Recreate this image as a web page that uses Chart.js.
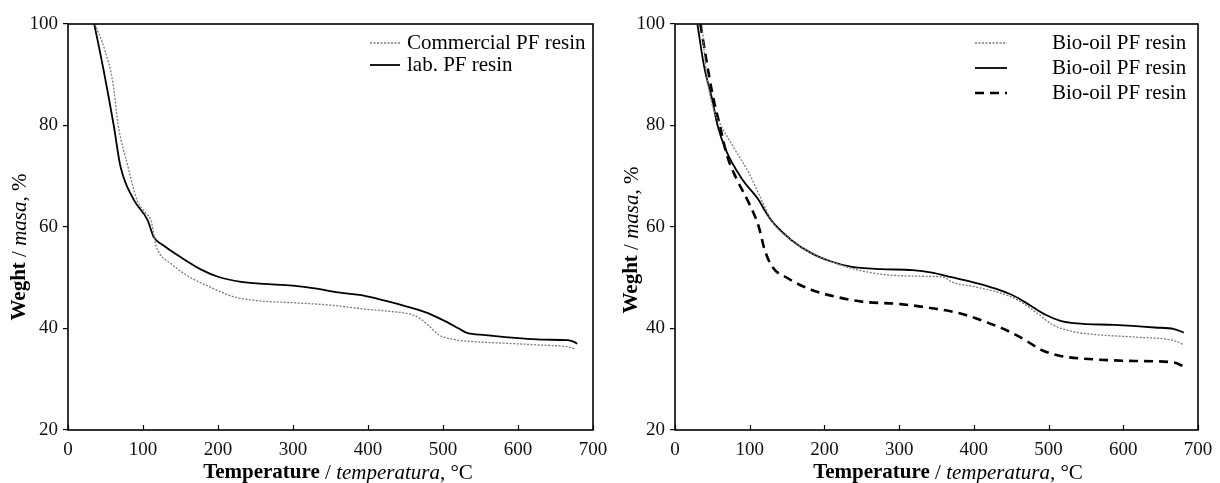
<!DOCTYPE html>
<html>
<head>
<meta charset="utf-8">
<script src="https://cdn.jsdelivr.net/npm/chart.js@4.4.0/dist/chart.umd.min.js"></script>
<style>
  html, body { margin: 0; padding: 0; background: #fff; }
  #wrap { position: relative; width: 1220px; height: 483px; }
  canvas { position: absolute; top: 0; }
</style>
</head>
<body>
<div id="wrap">
  <canvas id="left" width="610" height="483" style="left:0"></canvas>
  <canvas id="right" width="610" height="483" style="left:610px"></canvas>
</div>
<script>
// tick labels
const xTicks = [0, 100, 200, 300, 400, 500, 600, 700];
const yTicks = [20, 40, 60, 80, 100];

// left panel: commercial vs lab PF resin
const tempCommercial = [36, 49, 60, 67, 80, 92, 104, 111, 117, 122, 137, 158, 189, 220, 251, 298, 350, 397, 428, 459, 469, 480, 495, 516, 542, 583, 635, 666, 676];
const weightCommercial = [100, 94.9, 88.3, 80, 71.9, 65.3, 62.7, 61.1, 56.5, 54.8, 52.8, 50.5, 48.2, 46.3, 45.5, 45.1, 44.6, 43.8, 43.4, 42.7, 42.0, 40.7, 38.7, 37.8, 37.4, 37.1, 36.7, 36.4, 36.0];
const tempLab = [35, 48, 61, 70, 88, 106, 109, 114, 127, 153, 179, 200, 231, 272, 303, 329, 360, 397, 428, 464, 485, 506, 521, 531, 557, 583, 609, 635, 666, 674, 679];
const weightLab = [100, 90.5, 80, 71.9, 65.3, 61.4, 60.2, 58.1, 56.4, 53.8, 51.5, 50.2, 49.2, 48.7, 48.4, 47.9, 47.1, 46.4, 45.3, 43.8, 42.7, 41.2, 40.0, 39.2, 38.7, 38.3, 38.0, 37.8, 37.7, 37.4, 37.0];

// right panel: three bio-oil PF resins
const tempBioDotted = [36, 42, 52, 60, 78, 99, 115, 130, 156, 183, 209, 235, 276, 329, 360, 370, 402, 433, 459, 485, 506, 532, 563, 616, 668, 681];
const weightBioDotted = [100, 90.3, 83, 80.4, 75.8, 70.6, 65.6, 61.1, 57.4, 54.8, 53.2, 51.9, 50.7, 50.3, 50.1, 49.2, 48.2, 47.1, 45.6, 43.0, 40.7, 39.4, 38.8, 38.3, 37.6, 36.8];
const tempBioSolid = [30, 39, 50, 57, 68, 89, 112, 120, 130, 156, 183, 209, 235, 276, 318, 344, 370, 402, 428, 454, 475, 496, 516, 537, 589, 642, 668, 681];
const weightBioSolid = [100, 91.6, 85, 80, 75.2, 69.6, 65.3, 63.3, 61.1, 57.4, 54.8, 53.2, 52.2, 51.7, 51.5, 51.0, 50.1, 49.0, 47.9, 46.4, 44.6, 42.7, 41.5, 41.0, 40.7, 40.2, 39.9, 39.2];
const tempBioDashed = [34, 42, 50, 60, 70, 83, 99, 112, 120, 130, 151, 183, 214, 250, 302, 344, 381, 412, 443, 469, 490, 516, 563, 616, 668, 681];
const weightBioDashed = [100, 92.9, 86.3, 80, 73.9, 69.3, 64.7, 60.1, 55.5, 52.2, 49.9, 47.6, 46.3, 45.3, 44.8, 44.0, 43.0, 41.5, 39.7, 37.7, 35.8, 34.6, 33.9, 33.6, 33.3, 32.5];

const legendLeft = ["Commercial PF resin", "lab. PF resin"];
const legendRight = ["Bio-oil PF resin", "Bio-oil PF resin", "Bio-oil PF resin"];

const SERIF = "'Liberation Serif', 'Times New Roman', serif";

const styles = {
  dotted: { borderColor: "#7a7a7a", borderWidth: 1.3, borderDash: [2, 1.5] },
  solid: { borderColor: "#000", borderWidth: 1.8, borderDash: [] },
  dashed: { borderColor: "#000", borderWidth: 2.6, borderDash: [9, 6] },
};

function toPoints(xs, ys) {
  return xs.map((x, i) => ({ x: x, y: ys[i] }));
}

function series(label, xs, ys, style) {
  return Object.assign({
    label: label,
    data: toPoints(xs, ys),
    pointRadius: 0,
    fill: false,
    cubicInterpolationMode: "monotone",
  }, styles[style]);
}

// draws text made of several font pieces, centred on (cx, cy)
function drawMixed(ctx, parts, cx, cy) {
  let total = 0;
  parts.forEach((p) => { ctx.font = p.font; total += ctx.measureText(p.text).width; });
  let x = cx - total / 2;
  ctx.textAlign = "left";
  ctx.textBaseline = "middle";
  parts.forEach((p) => {
    ctx.font = p.font;
    ctx.fillText(p.text, x, cy);
    x += ctx.measureText(p.text).width;
  });
}

const framePlugin = {
  id: "frame",
  afterDraw(chart, args, opts) {
    const ctx = chart.ctx;
    const a = chart.chartArea;
    const xs = chart.scales.x;
    ctx.save();
    ctx.strokeStyle = "#000";
    ctx.lineWidth = 1.6;
    ctx.strokeRect(a.left, a.top, a.right - a.left, a.bottom - a.top);
    // inward ticks on the x axis
    ctx.lineWidth = 1.2;
    xTicks.forEach((v) => {
      const px = Math.round(xs.getPixelForValue(v)) + 0.5;
      ctx.beginPath();
      ctx.moveTo(px, a.bottom);
      ctx.lineTo(px, a.bottom - 5);
      ctx.stroke();
    });
    ctx.fillStyle = "#000";
    // x title
    drawMixed(ctx, [
      { text: "Temperature", font: "bold 21px " + SERIF },
      { text: " / ", font: "21px " + SERIF },
      { text: "temperatura", font: "italic 21px " + SERIF },
      { text: ", °C", font: "21px " + SERIF },
    ], opts.xTitleX, 473);
    // y title
    ctx.save();
    ctx.translate(opts.yTitleX, opts.yTitleY);
    ctx.rotate(-Math.PI / 2);
    drawMixed(ctx, [
      { text: "Weght", font: "bold 21px " + SERIF },
      { text: " / ", font: "21px " + SERIF },
      { text: "masa", font: "italic 21px " + SERIF },
      { text: ", %", font: "21px " + SERIF },
    ], 0, 0);
    ctx.restore();
    // legend
    const lg = opts.legend;
    ctx.font = "21px " + SERIF;
    ctx.textBaseline = "middle";
    ctx.textAlign = "left";
    chart.data.datasets.forEach((ds, i) => {
      const y = lg.rows[i];
      ctx.save();
      ctx.strokeStyle = ds.borderColor;
      ctx.lineWidth = ds.borderWidth;
      ctx.setLineDash(ds.borderDash || []);
      ctx.beginPath();
      ctx.moveTo(lg.x1, y);
      ctx.lineTo(lg.x2, y);
      ctx.stroke();
      ctx.restore();
      ctx.fillText(lg.labels[i], lg.textX, y);
    });
    ctx.restore();
  },
};

function makeOptions(yWidth, padRight, pluginOpts) {
  return {
    responsive: false,
    animation: false,
    devicePixelRatio: 1,
    layout: { padding: { top: 24, right: padRight, left: 0, bottom: 0 } },
    plugins: { legend: { display: false }, tooltip: { enabled: false }, frame: pluginOpts },
    scales: {
      x: {
        type: "linear",
        min: 0,
        max: 700,
        afterBuildTicks: (s) => { s.ticks = xTicks.map((v) => ({ value: v })); },
        afterFit: (s) => { s.height = 53; s.paddingLeft = 0; s.paddingRight = 0; },
        grid: { display: false, drawTicks: false },
        border: { display: false },
        ticks: { color: "#111", padding: 9, font: { family: SERIF, size: 19 } },
      },
      y: {
        type: "linear",
        min: 20,
        max: 100,
        afterBuildTicks: (s) => { s.ticks = yTicks.map((v) => ({ value: v })); },
        afterFit: (s) => { s.width = yWidth; s.paddingTop = 0; s.paddingBottom = 0; },
        grid: { drawOnChartArea: false, drawTicks: true, tickLength: 5, color: "#000", lineWidth: 1.2 },
        border: { display: false },
        ticks: { color: "#111", padding: 5, font: { family: SERIF, size: 19 } },
      },
    },
  };
}

new Chart(document.getElementById("left"), {
  type: "line",
  data: {
    datasets: [
      series(legendLeft[0], tempCommercial, weightCommercial, "dotted"),
      series(legendLeft[1], tempLab, weightLab, "solid"),
    ],
  },
  options: makeOptions(68, 17, {
    xTitleX: 338, yTitleX: 20, yTitleY: 247,
    legend: { x1: 370, x2: 400, textX: 407, rows: [43, 65], labels: legendLeft },
  }),
  plugins: [framePlugin],
});

new Chart(document.getElementById("right"), {
  type: "line",
  data: {
    datasets: [
      series(legendRight[0], tempBioDotted, weightBioDotted, "dotted"),
      series(legendRight[1], tempBioSolid, weightBioSolid, "solid"),
      series(legendRight[2], tempBioDashed, weightBioDashed, "dashed"),
    ],
  },
  options: makeOptions(65, 22, {
    xTitleX: 338, yTitleX: 22, yTitleY: 240,
    legend: { x1: 365, x2: 397, textX: 442, rows: [43, 68, 93], labels: legendRight },
  }),
  plugins: [framePlugin],
});
</script>
</body>
</html>
